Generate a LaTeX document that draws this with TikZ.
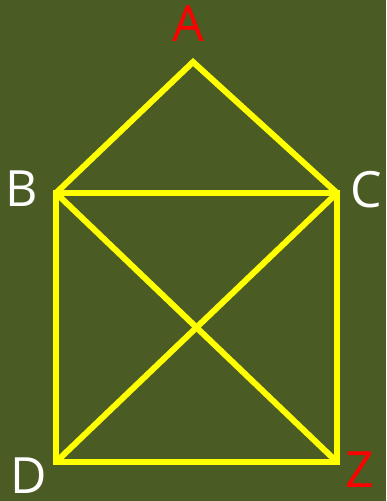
\documentclass[tikz,border=0pt]{standalone}
\usepackage{xcolor}
\usepackage{fontspec}
\setmainfont{Open Sans}
\definecolor{boardbg}{RGB}{75,91,36}
\definecolor{edgeyel}{RGB}{255,255,0}

\begin{document}
\begin{tikzpicture}[
    x=1pt, y=-1pt,
    every node/.style={font=\fontsize{50}{60}\selectfont, inner sep=0pt},
    lbl/.style={text=white},
    hot/.style={text=red},
    edge/.style={draw=edgeyel, line width=6pt},
]
    % Background (fixes the page size)
    \fill[boardbg] (0,0) rectangle (386,501);
    \useasboundingbox (0,0) rectangle (386,501);

    % Corners of the house
    \coordinate (a) at (193, 62);
    \coordinate (b) at (56, 193);
    \coordinate (c) at (337, 193);
    \coordinate (d) at (56, 462);
    \coordinate (z) at (337, 462);

    % Letters
    \node[hot] (la) at (188.5, 24) {A};
    \node[lbl] (lb) at (21.5, 189) {B};
    \node[lbl] (lc) at (366, 190) {C};
    \node[lbl] (ld) at (29, 476) {D};
    \node[hot] (lz) at (360, 470) {Z};

    % Roof
    \draw[edge] (b) -- (a) -- (c);
    % Walls and floor
    \draw[edge] (b) -- (c) -- (z) -- (d) -- cycle;
    % Crossing
    \draw[edge] (b) -- (z);
    \draw[edge] (c) -- (d);

\end{tikzpicture}
\end{document}
